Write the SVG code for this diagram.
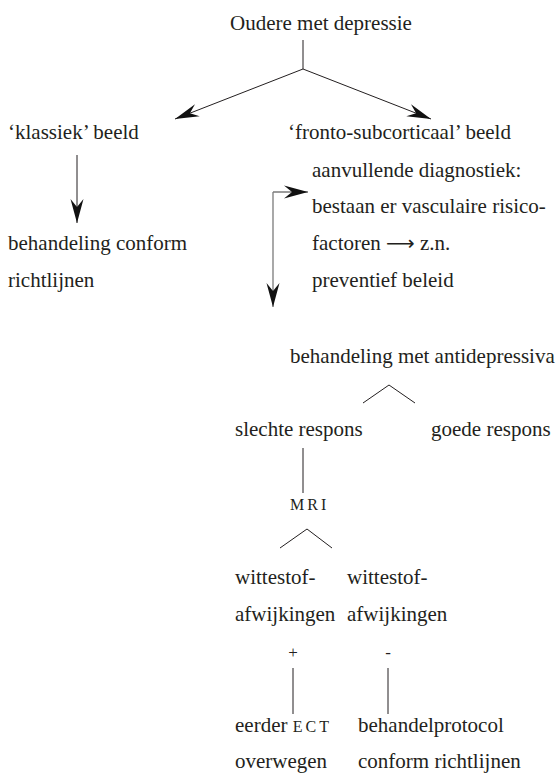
<svg xmlns="http://www.w3.org/2000/svg" width="559" height="773" viewBox="0 0 559 773">
<style>
text{font-family:'Liberation Serif','DejaVu Serif',serif;font-size:21px;fill:#231f20;}
.sc{font-size:16px;letter-spacing:3px;}
.ar{font-family:'DejaVu Sans','Liberation Sans',sans-serif;font-size:20px;}
.ln{stroke:#231f20;stroke-width:1;fill:none;}
.gr{stroke:#7a7a7a;stroke-width:1.3;fill:none;}
</style>
<defs>
<marker id="ah" markerUnits="userSpaceOnUse" viewBox="-25 -7 26 14" refX="0" refY="0" markerWidth="26" markerHeight="14" orient="auto">
<path d="M0,0 L-24,-6.5 L-16,0 L-24,6.5 Z" fill="#111"/>
</marker>
</defs>
<rect width="559" height="773" fill="#fff"/>
<g id="connectors">
<path class="ln" d="M303,40 V69"/>
<path class="ln" d="M303,69 L175,119" marker-end="url(#ah)"/>
<path class="ln" d="M303,69 L431,119" marker-end="url(#ah)"/>
<path class="ln" d="M77,155 V223" marker-end="url(#ah)"/>
<path class="gr" d="M273,192 H308" marker-end="url(#ah)"/>
<path class="gr" d="M273,192 V307" marker-end="url(#ah)"/>
<path class="ln" d="M363,403 L389,385 L415,403"/>
<path class="ln" d="M303,448 V493"/>
<path class="ln" d="M280,548 L307,529 L332,548"/>
<path class="ln" d="M293,668 V714"/>
<path class="ln" d="M388,668 V714"/>
</g>
<g id="n-root"><text x="230" y="30">Oudere met depressie</text></g>
<g id="n-klassiek"><text x="8" y="139">‘klassiek’ beeld</text></g>
<g id="n-fronto"><text x="288" y="139">‘fronto-subcorticaal’ beeld</text></g>
<g id="n-diag">
<text x="312" y="177">aanvullende diagnostiek:</text>
<text x="312" y="213">bestaan er vasculaire risico-</text>
<text x="312" y="250">factoren <tspan class="ar">⟶</tspan> z.n.</text>
<text x="312" y="287">preventief beleid</text>
</g>
<g id="n-conform1">
<text x="8" y="250">behandeling conform</text>
<text x="8" y="287">richtlijnen</text>
</g>
<g id="n-antidep"><text x="290" y="363">behandeling met antidepressiva</text></g>
<g id="n-slecht"><text x="235" y="436">slechte respons</text></g>
<g id="n-goed"><text x="431" y="436">goede respons</text></g>
<g id="n-mri"><text class="sc" x="290" y="510">MRI</text></g>
<g id="n-wit1">
<text x="235" y="584">wittestof-</text>
<text x="235" y="621">afwijkingen</text>
<text x="293" y="658" text-anchor="middle" style="font-size:17px">+</text>
</g>
<g id="n-wit2">
<text x="347" y="584">wittestof-</text>
<text x="347" y="621">afwijkingen</text>
<text x="388" y="658" text-anchor="middle" style="font-size:17px">-</text>
</g>
<g id="n-ect">
<text x="235" y="732">eerder <tspan class="sc">ECT</tspan></text>
<text x="235" y="768">overwegen</text>
</g>
<g id="n-protocol">
<text x="358" y="732">behandelprotocol</text>
<text x="358" y="768">conform richtlijnen</text>
</g>
</svg>
